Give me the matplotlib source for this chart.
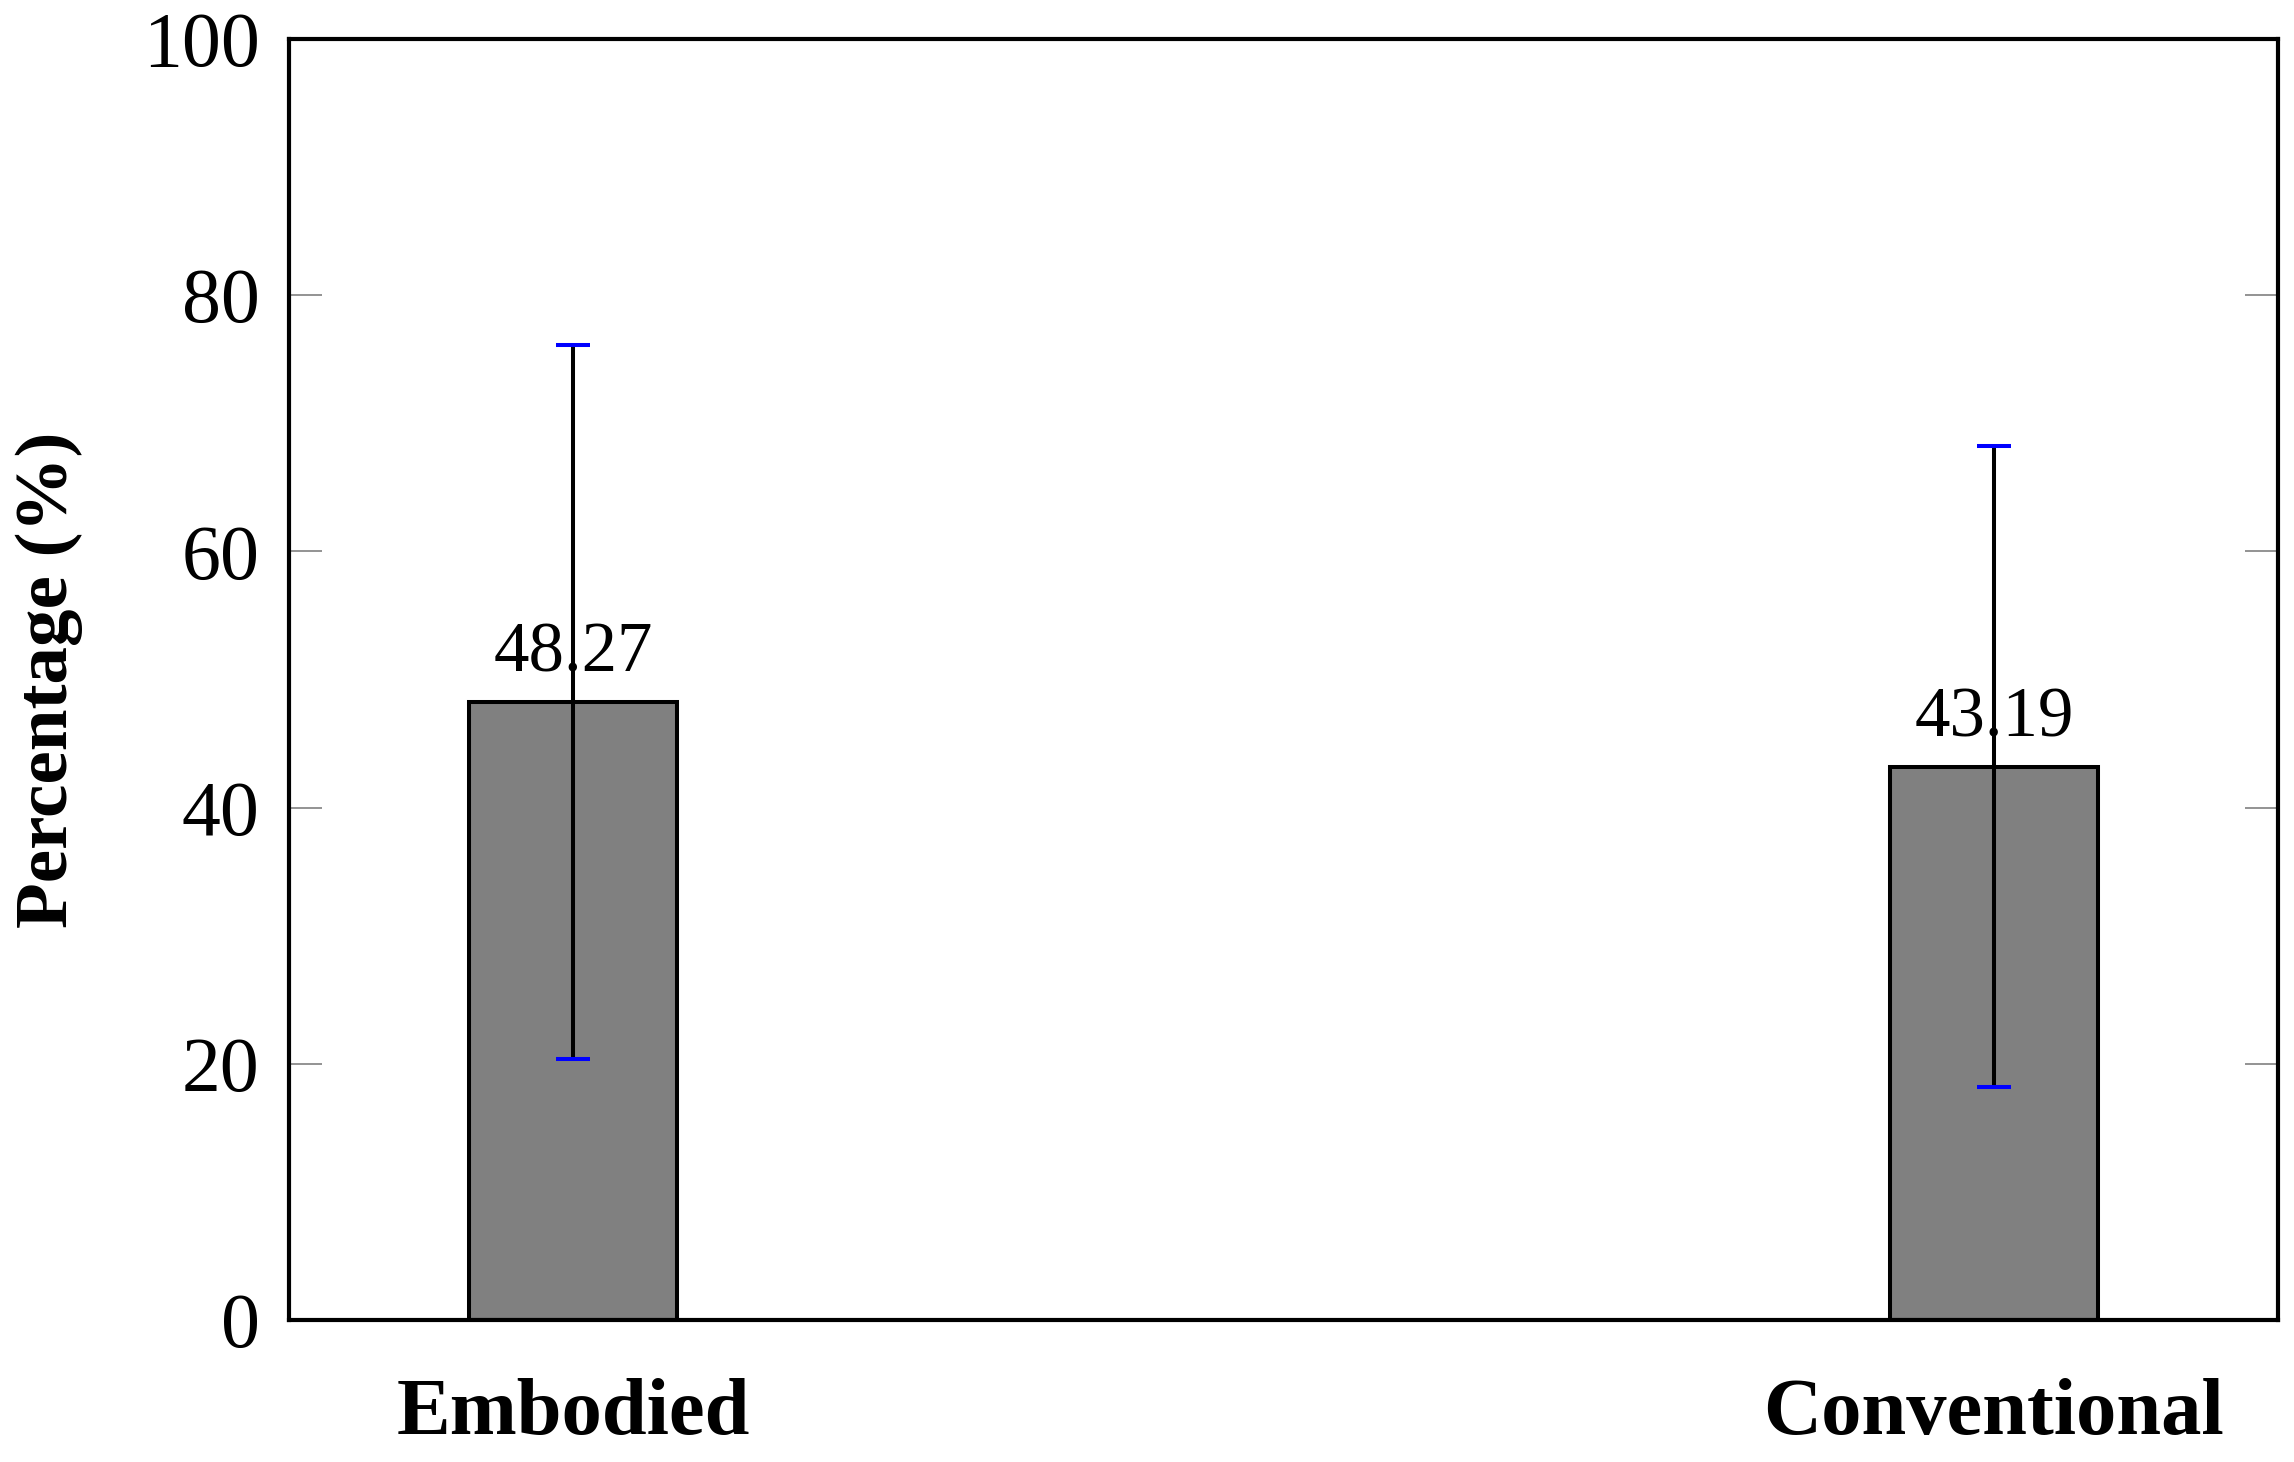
import matplotlib.pyplot as plt
import numpy as np

plt.rcParams['font.family'] = ['Liberation Serif', 'DejaVu Serif']

# data
groups = ["Embodied", "Conventional"]
means = [48.27, 43.19]
errors = [27.87, 25.0]
yticks = [0, 20, 40, 60, 80, 100]

fig = plt.figure(figsize=(22.94, 14.62), dpi=100)
ax = fig.add_axes([289/2294, 142/1462, (2278-289)/2294, (1320-39)/1462])

x = np.arange(len(groups))
ax.bar(x, means, width=0.146, color="#808080", edgecolor="black", linewidth=2.9, zorder=2)

for xi, m in zip(x, means):
    ax.annotate(f"{m:.2f}", (xi, m), xytext=(0, 21.5), textcoords="offset points",
                ha="center", va="baseline", fontsize=51, zorder=3)

eb = ax.errorbar(x, means, yerr=errors, fmt="none", ecolor="black", elinewidth=2.9,
                 capsize=12.2, capthick=2.9, zorder=4)
# caps in blue
for cap in eb[1]:
    cap.set_markeredgecolor("blue")
    cap.set_markerfacecolor("blue")

ax.set_xlim(-0.2, 1.2)
ax.set_ylim(0, 100)
ax.set_yticks(yticks)
ax.set_xticks(x)
ax.set_xticklabels(groups, fontweight="bold", fontsize=58)
ax.tick_params(axis="x", length=0, pad=42)
ax.tick_params(axis="y", direction="in", length=24, width=1.2, color="#808080",
               right=True, labelsize=56, pad=21)

for sp in ax.spines.values():
    sp.set_linewidth(3.0)

ax.set_ylabel("Percentage (%)", fontweight="bold", fontsize=54)
ax.yaxis.set_label_coords(-0.1035, 0.5)

fig.savefig("out.png", dpi=100)
